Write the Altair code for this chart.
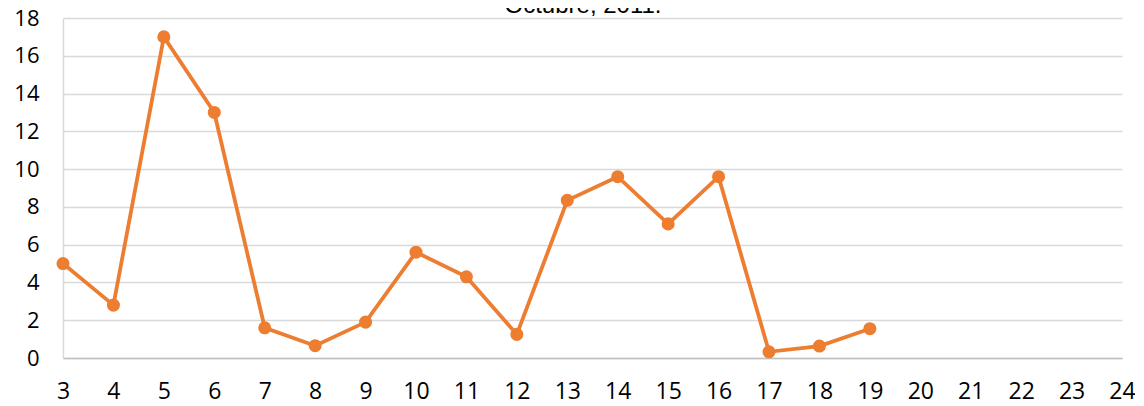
import altair as alt
import pandas as pd

days = [3, 4, 5, 6, 7, 8, 9, 10, 11, 12, 13, 14, 15, 16, 17, 18, 19]
values = [5.0, 2.8, 17.0, 13.0, 1.6, 0.65, 1.9, 5.6, 4.3, 1.25, 8.35, 9.6, 7.1, 9.6, 0.33, 0.63, 1.55]
x_ticks = list(range(3, 25))
y_ticks = list(range(0, 19, 2))
title_text = "Octubre, 2011."

df = pd.DataFrame({"dia": days, "valor": values})
color = "#ED7D31"
font = "Open Sans"

x = alt.X("dia:Q", scale=alt.Scale(domain=[3, 24], nice=False, zero=False),
          axis=alt.Axis(values=x_ticks, title=None, grid=False, ticks=False,
                        labelFontSize=23, labelFont=font, labelColor="#000000",
                        labelPadding=22, domainColor="#BFBFBF", domainWidth=1.5,
                        labelFlush=False))
y = alt.Y("valor:Q", scale=alt.Scale(domain=[0, 18], nice=False),
          axis=alt.Axis(values=y_ticks, title=None, grid=True, gridColor="#D9D9D9",
                        gridWidth=1.5, ticks=False, labelFontSize=22, labelFont=font,
                        labelColor="#000000", labelPadding=24, domainColor="#D9D9D9",
                        domainWidth=1.5))

line = alt.Chart(df).mark_line(color=color, strokeWidth=3.8).encode(x=x, y=y)
pts = alt.Chart(df).mark_point(color=color, filled=True, opacity=1, size=170).encode(x=x, y=y)

title = alt.Chart(pd.DataFrame({"t": [title_text]})).mark_text(
    font="Liberation Sans", fontSize=24, baseline="alphabetic", align="center",
    color="#000000"
).encode(text="t:N", x=alt.value(520), y=alt.value(-5))

chart = (line + pts + title).properties(
    width=1059, height=340,
    autosize=alt.AutoSizeParams(type="none"),
    padding={"left": 55, "top": 10, "right": 13, "bottom": 48},
).configure_view(stroke=None)

chart.save("out.html", embed_options={"renderer": "svg", "actions": False})
